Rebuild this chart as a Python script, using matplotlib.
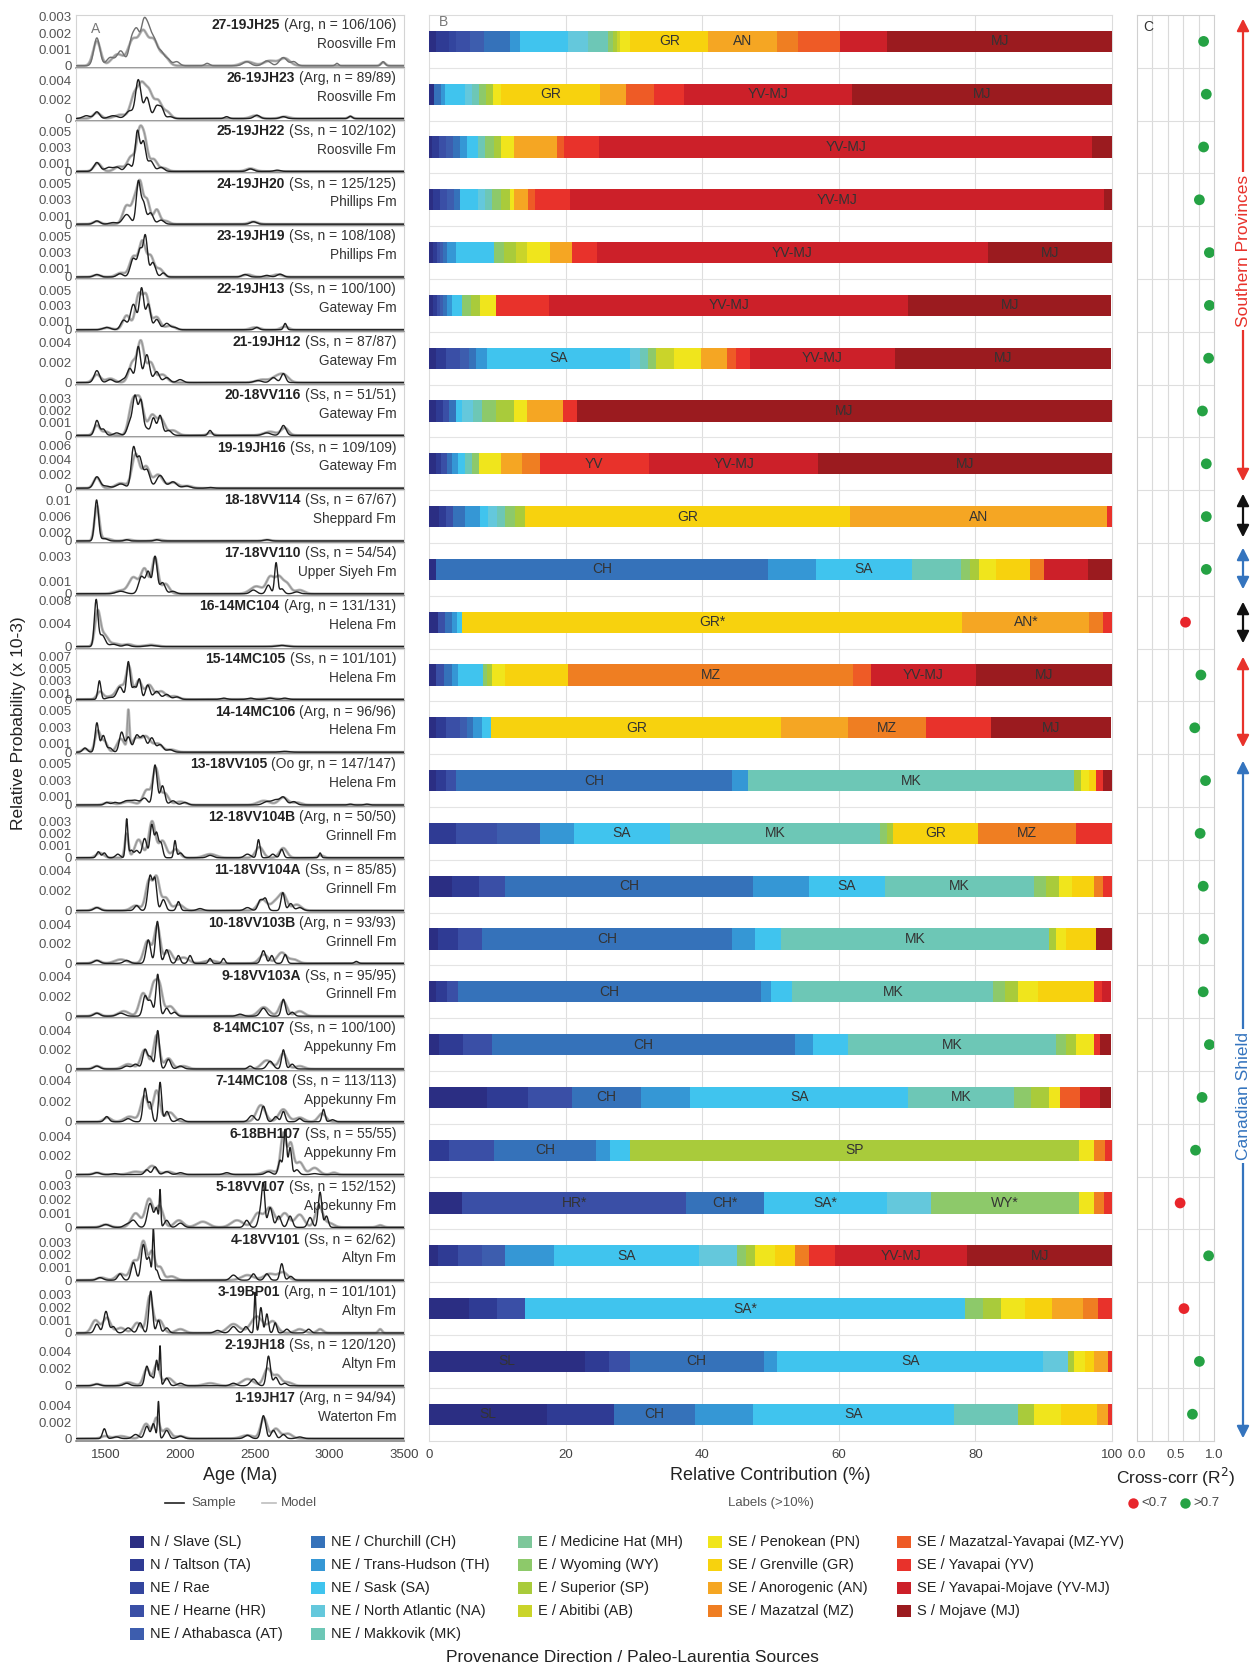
import numpy as np
import matplotlib
matplotlib.use("Agg")
import matplotlib.pyplot as plt
from matplotlib.offsetbox import TextArea, HPacker, AnchoredOffsetbox
from matplotlib.patches import FancyArrowPatch, Rectangle
from matplotlib.lines import Line2D

plt.rcParams['font.family'] = ['Liberation Sans', 'DejaVu Sans']

# ---------------- data ----------------
sample_ids = ['27-19JH25', '26-19JH23', '25-19JH22', '24-19JH20', '23-19JH19', '22-19JH13',
              '21-19JH12', '20-18VV116', '19-19JH16', '18-18VV114', '17-18VV110', '16-14MC104',
              '15-14MC105', '14-14MC106', '13-18VV105', '12-18VV104B', '11-18VV104A',
              '10-18VV103B', '9-18VV103A', '8-14MC107', '7-14MC108', '6-18BH107', '5-18VV107',
              '4-18VV101', '3-19BP01', '2-19JH18', '1-19JH17']
lithology = ['Arg', 'Arg', 'Ss', 'Ss', 'Ss', 'Ss', 'Ss', 'Ss', 'Ss', 'Ss', 'Ss', 'Arg', 'Ss', 'Arg',
             'Oo gr', 'Arg', 'Ss', 'Arg', 'Ss', 'Ss', 'Ss', 'Ss', 'Ss', 'Ss', 'Arg', 'Ss', 'Arg']
n_grains = ['106/106', '89/89', '102/102', '125/125', '108/108', '100/100', '87/87', '51/51',
            '109/109', '67/67', '54/54', '131/131', '101/101', '96/96', '147/147', '50/50',
            '85/85', '93/93', '95/95', '100/100', '113/113', '55/55', '152/152', '62/62',
            '101/101', '120/120', '94/94']
formations = ['Roosville Fm', 'Roosville Fm', 'Roosville Fm', 'Phillips Fm', 'Phillips Fm',
              'Gateway Fm', 'Gateway Fm', 'Gateway Fm', 'Gateway Fm', 'Sheppard Fm',
              'Upper Siyeh Fm', 'Helena Fm', 'Helena Fm', 'Helena Fm', 'Helena Fm',
              'Grinnell Fm', 'Grinnell Fm', 'Grinnell Fm', 'Grinnell Fm', 'Appekunny Fm',
              'Appekunny Fm', 'Appekunny Fm', 'Appekunny Fm', 'Altyn Fm', 'Altyn Fm',
              'Altyn Fm', 'Waterton Fm']

# age-spectrum peaks: (age Ma, height x1e-3, width Ma)
s27_sample = [(1440,1.7,20),(1530,0.5,25),(1600,0.9,25),(1675,1.6,20),(1710,1.8,18),(1752,2.2,18),(1785,2.0,20),(1825,1.4,20),(1870,0.8,20),(1915,0.4,20),(1975,0.25,20),(2180,0.15,15),(2445,0.25,25),(2580,0.3,25),(2690,0.5,25),(2760,0.25,20),(3050,0.15,10),(3360,0.25,12)]
s27_model = [(1440,1.5,25),(1580,0.7,40),(1680,1.5,30),(1750,2.0,30),(1820,1.5,30),(1890,0.6,30),(2450,0.25,40),(2600,0.3,40),(2700,0.45,35),(3360,0.2,15)]
s26_sample = [(1440,0.7,18),(1370,0.3,25),(1550,0.3,30),(1660,0.8,25),(1718,4.0,18),(1775,2.2,18),(1841,1.3,18),(1875,1.0,15),(1930,0.2,20),(2310,0.2,15),(2513,0.35,20),(2690,0.2,20),(3140,0.25,12)]
s26_model = [(1440,0.6,25),(1600,0.4,40),(1690,2.3,25),(1740,3.2,25),(1790,2.6,25),(1850,1.8,25),(1910,0.7,25),(2500,0.3,30),(2700,0.2,30),(3140,0.2,15)]
s25_sample = [(1440,1.1,20),(1520,0.5,25),(1575,0.5,20),(1650,0.9,20),(1712,5.0,15),(1752,3.6,15),(1800,1.3,20),(1870,0.5,20),(2470,0.3,20),(2650,0.15,20)]
s25_model = [(1445,1.0,25),(1590,0.6,30),(1670,1.8,25),(1725,4.5,20),(1760,3.6,20),(1820,1.5,25),(1890,0.4,25),(2470,0.35,30)]
s24_sample = [(1440,0.4,20),(1550,0.2,25),(1640,1.2,25),(1718,5.2,14),(1752,2.6,15),(1800,1.4,18),(1870,0.5,20),(2490,0.3,20)]
s24_model = [(1440,0.35,25),(1640,2.3,25),(1695,2.8,20),(1730,4.6,18),(1775,3.0,20),(1841,1.8,20),(1900,0.4,25),(2490,0.3,30)]
s23_sample = [(1440,0.3,20),(1595,0.4,20),(1685,2.3,20),(1730,3.2,15),(1765,5.0,14),(1815,1.8,18),(1886,0.5,15),(2434,0.3,20),(2580,0.2,20),(2669,0.35,20)]
s23_model = [(1440,0.25,25),(1600,0.5,30),(1685,2.5,25),(1745,4.3,22),(1800,2.5,22),(1860,1.0,25),(2450,0.3,30),(2650,0.3,30)]
s22_sample = [(1506,0.3,25),(1620,1.2,20),(1685,3.2,20),(1740,5.2,15),(1785,3.2,15),(1841,1.3,18),(1908,0.8,20),(1960,0.3,20),(2513,0.3,15),(2703,0.8,10)]
s22_model = [(1510,0.25,30),(1640,1.8,25),(1720,4.3,22),(1770,4.2,22),(1840,1.6,25),(1930,0.5,30),(2500,0.3,30),(2700,0.4,25)]
s21_sample = [(1440,1.2,18),(1530,0.3,20),(1618,0.3,20),(1662,1.4,18),(1718,3.6,15),(1775,2.8,18),(1841,1.1,18),(1908,0.5,20),(1998,0.3,20),(2520,0.2,25),(2624,0.5,20),(2691,0.9,15)]
s21_model = [(1440,0.8,25),(1530,0.4,30),(1680,2.0,25),(1735,4.0,22),(1800,2.0,25),(1880,0.8,30),(2550,0.3,40),(2650,0.6,35),(2700,0.6,30)]
s20_sample = [(1440,1.2,15),(1483,0.5,15),(1573,0.2,20),(1662,1.0,18),(1696,3.0,15),(1735,2.8,15),(1775,0.5,15),(1819,1.4,15),(1864,1.6,15),(1920,0.4,20),(2199,0.4,12),(2580,0.2,25),(2691,0.8,18)]
s20_model = [(1440,0.8,20),(1500,0.3,25),(1680,2.6,25),(1730,2.7,25),(1810,1.6,25),(1870,1.3,25),(1950,0.4,30),(2200,0.2,20),(2600,0.3,40),(2700,0.6,25)]
s19_sample = [(1440,1.6,20),(1500,0.3,25),(1600,0.6,30),(1685,5.5,15),(1725,4.3,18),(1775,2.6,20),(1864,1.8,25),(1950,0.9,25),(2040,0.3,25),(2200,0.1,20)]
s19_model = [(1440,1.5,22),(1600,0.7,35),(1700,4.8,25),(1770,3.0,25),(1850,1.9,30),(1950,0.8,35),(2050,0.3,30)]
s18_sample = [(1438,10.0,13),(1490,0.6,20),(1640,0.3,15),(1840,0.3,15),(2580,0.3,20)]
s18_model = [(1440,8.5,16),(1500,0.6,30),(1650,0.3,30),(1850,0.3,30),(2580,0.25,30)]
s17_sample = [(1600,0.2,30),(1740,1.4,20),(1785,1.7,15),(1830,3.0,14),(1880,0.9,18),(1950,0.2,20),(2490,0.3,20),(2590,0.7,15),(2642,2.5,10),(2680,0.4,15),(2780,0.15,20)]
s17_model = [(1600,0.25,40),(1685,1.3,30),(1760,2.0,25),(1830,2.9,20),(1900,0.8,25),(2510,0.6,40),(2602,1.3,25),(2660,1.3,25),(2714,0.8,25),(2800,0.3,30)]
s16_sample = [(1435,8.0,12),(1475,2.0,20),(1550,0.4,25),(1640,0.3,20),(1800,0.2,30),(2680,0.2,30)]
s16_model = [(1445,6.0,18),(1490,2.0,25),(1560,0.5,30),(1650,0.4,30),(1800,0.3,40),(2680,0.2,40)]
s15_sample = [(1457,3.0,10),(1530,0.3,25),(1595,2.0,20),(1651,6.0,12),(1690,2.0,15),(1725,3.2,12),(1781,2.3,15),(1841,1.3,20),(1908,0.8,20),(1976,0.4,20),(2290,0.2,20),(2470,0.2,20),(2600,0.2,20),(2700,0.2,20)]
s15_model = [(1460,1.2,20),(1520,0.4,30),(1600,2.2,30),(1655,5.0,18),(1720,3.0,22),(1790,2.3,25),(1870,1.3,30),(1960,0.5,30),(2600,0.2,40)]
s14_sample = [(1360,0.5,15),(1440,3.5,12),(1483,2.0,15),(1528,0.5,15),(1606,2.4,15),(1651,1.8,15),(1707,2.0,18),(1752,1.9,18),(1808,1.7,18),(1864,0.9,20),(1930,0.3,20),(2700,0.1,30)]
s14_model = [(1360,0.4,20),(1445,2.5,18),(1490,1.3,20),(1600,1.6,25),(1651,4.5,7),(1700,1.6,30),(1770,1.8,30),(1850,1.0,30),(1940,0.3,30)]
s13_sample = [(1506,0.3,15),(1560,0.3,20),(1640,0.5,30),(1700,0.5,25),(1760,0.8,20),(1830,4.8,14),(1880,2.3,15),(1950,0.5,20),(2030,0.3,20),(2580,0.4,25),(2640,0.6,25),(2691,0.9,20),(2760,0.4,20),(3140,0.1,15),(3250,0.1,15)]
s13_model = [(1520,0.3,30),(1650,0.4,40),(1775,1.8,25),(1835,4.3,20),(1895,1.4,25),(2000,0.4,35),(2560,0.5,40),(2690,0.9,30),(2780,0.3,30)]
s12_sample = [(1450,0.5,12),(1490,0.4,12),(1580,0.3,15),(1640,3.2,8),(1670,0.6,12),(1707,0.6,15),(1760,1.6,15),(1808,2.7,12),(1840,2.0,12),(1870,1.2,12),(1964,1.4,8),(2000,0.4,15),(2200,0.2,20),(2450,0.3,20),(2524,1.5,10),(2620,0.3,15),(2680,0.7,12),(2937,0.4,8)]
s12_model = [(1460,0.4,25),(1640,2.0,12),(1720,1.5,25),(1810,3.0,22),(1880,1.4,25),(1970,0.7,25),(2200,0.3,40),(2530,0.9,25),(2690,0.8,25),(2940,0.2,20)]
s11_sample = [(1440,0.3,20),(1707,0.5,15),(1797,3.5,15),(1830,3.0,12),(1886,1.1,15),(1987,0.9,12),(2132,0.2,20),(2450,0.3,20),(2535,1.0,15),(2570,1.2,15),(2687,1.8,12),(2740,0.7,15),(2800,0.3,20)]
s11_model = [(1440,0.3,25),(1700,0.5,30),(1790,3.0,22),(1840,3.2,20),(1900,1.3,25),(1990,0.6,30),(2550,1.1,30),(2640,0.9,30),(2690,1.5,25),(2780,0.6,30)]
s10_sample = [(1440,0.3,20),(1640,0.3,20),(1785,2.4,15),(1846,4.3,13),(1908,1.4,15),(1987,0.8,12),(2065,0.8,12),(2199,0.5,10),(2289,0.5,10),(2557,1.3,15),(2613,0.8,12),(2703,0.9,12),(3180,0.2,12)]
s10_model = [(1440,0.3,25),(1600,0.4,40),(1780,2.3,25),(1845,3.8,20),(1920,1.3,25),(2020,0.6,35),(2200,0.3,40),(2560,0.9,30),(2680,1.1,30),(2760,0.4,30)]
s9_sample = [(1440,0.3,20),(1600,0.3,25),(1763,2.0,15),(1800,1.5,15),(1848,4.2,12),(1908,0.8,15),(1960,0.4,15),(2400,0.2,20),(2557,0.8,20),(2691,1.7,13),(2750,0.4,15)]
s9_model = [(1440,0.3,25),(1620,0.5,35),(1750,2.3,25),(1820,3.0,22),(1860,2.8,20),(1930,1.0,30),(2560,0.9,35),(2690,1.5,25),(2800,0.5,30)]
s8_sample = [(1440,0.3,20),(1640,0.3,20),(1700,0.5,20),(1763,2.0,15),(1800,1.2,15),(1848,4.0,12),(1920,1.0,15),(2000,0.3,20),(2468,0.3,15),(2602,0.8,20),(2691,2.0,12),(2750,0.5,15)]
s8_model = [(1440,0.3,25),(1650,0.5,35),(1760,2.0,25),(1840,3.5,20),(1920,1.1,25),(2020,0.3,30),(2580,0.9,35),(2690,1.6,25),(2800,0.3,30)]
s7_sample = [(1506,0.5,15),(1650,0.3,20),(1763,3.2,13),(1797,1.8,12),(1864,3.8,10),(1910,1.0,15),(2000,0.3,20),(2480,0.6,20),(2557,1.5,15),(2640,0.5,15),(2691,1.0,12),(2800,0.3,15),(2960,1.2,10),(3020,0.2,15)]
s7_model = [(1510,0.4,25),(1660,0.5,35),(1760,2.5,25),(1840,3.0,22),(1930,0.9,30),(2540,1.6,30),(2690,1.2,30),(2800,0.4,30),(2950,0.8,25)]
s6_sample = [(1440,0.2,20),(1560,0.1,20),(1775,0.5,15),(1830,0.8,15),(1908,0.3,20),(2000,0.2,20),(2311,0.2,20),(2590,0.3,20),(2669,1.5,12),(2703,4.7,10),(2736,2.8,10),(2781,0.5,15),(2900,0.1,20)]
s6_model = [(1440,0.2,25),(1700,0.3,40),(1810,0.9,30),(1920,0.3,30),(2600,0.4,40),(2691,4.3,18),(2740,3.2,18),(2800,1.3,25),(2900,0.7,30),(3030,0.2,20)]
s5_sample = [(1500,0.2,25),(1640,0.2,20),(1685,0.5,20),(1797,1.7,18),(1840,1.3,12),(1864,2.5,5),(1908,0.5,15),(2000,0.3,20),(2445,0.5,15),(2540,1.2,15),(2557,2.5,10),(2602,1.4,15),(2660,0.8,15),(2736,0.8,15),(2870,0.7,15),(2937,2.5,12),(2980,0.8,12)]
s5_model = [(1500,0.2,30),(1700,1.0,30),(1790,2.0,25),(1860,1.5,25),(1990,0.5,30),(2150,0.4,40),(2380,0.5,40),(2520,1.0,30),(2600,1.4,30),(2700,1.0,30),(2800,0.9,30),(2930,1.5,25),(3000,0.3,30),(3340,0.15,20)]
s4_sample = [(1461,0.2,20),(1595,0.5,15),(1685,1.4,15),(1752,2.8,15),(1790,1.7,12),(1819,3.8,6),(1840,0.8,12),(2356,0.4,20),(2490,0.5,15),(2580,0.5,15),(2680,1.3,12),(2740,0.3,15)]
s4_model = [(1470,0.2,30),(1600,0.5,30),(1690,1.5,25),(1752,3.0,22),(1810,2.2,20),(1864,1.0,20),(1940,0.3,30),(2450,0.4,40),(2600,0.5,40),(2690,0.6,30)]
s3_sample = [(1440,0.7,15),(1501,1.7,15),(1550,0.5,15),(1650,0.4,20),(1730,0.8,15),(1801,3.3,12),(1853,1.0,12),(1908,0.4,15),(2250,0.2,20),(2356,0.5,20),(2440,0.5,15),(2501,3.2,6),(2540,2.0,10),(2580,1.5,10),(2636,0.8,10),(2714,0.3,15),(2860,0.3,15)]
s3_model = [(1430,1.0,25),(1506,1.2,25),(1600,0.4,30),(1710,0.8,25),(1795,2.9,20),(1860,1.0,25),(2000,0.3,30),(2356,0.7,40),(2513,1.3,40),(2620,0.9,30),(2800,0.3,30),(2937,0.3,20),(3340,0.3,12)]
s2_sample = [(1440,0.2,20),(1640,0.3,20),(1775,2.3,13),(1808,1.0,12),(1841,3.0,10),(1864,4.5,5),(1908,0.9,15),(2000,0.3,20),(2356,0.3,20),(2490,0.8,20),(2591,3.5,13),(2640,1.0,15),(2700,0.3,15)]
s2_model = [(1440,0.2,25),(1650,0.4,35),(1775,2.0,22),(1841,2.5,20),(1920,0.9,30),(2200,0.3,40),(2450,0.8,40),(2585,2.0,25),(2650,1.2,25),(2720,0.4,30)]
s1_sample = [(1490,1.2,12),(1570,0.2,20),(1700,0.5,20),(1775,1.5,15),(1819,1.8,12),(1853,4.5,6),(1908,1.0,15),(2000,0.3,20),(2450,0.4,20),(2557,2.8,15),(2624,1.0,15),(2691,0.5,15),(2800,0.2,20)]
s1_model = [(1495,0.3,25),(1600,0.3,40),(1770,1.8,25),(1840,2.5,20),(1910,1.2,25),(2000,0.3,30),(2450,0.4,40),(2560,2.5,22),(2640,1.2,25),(2720,0.6,30)]

sample_peaks = [s27_sample, s26_sample, s25_sample, s24_sample, s23_sample, s22_sample, s21_sample,
                s20_sample, s19_sample, s18_sample, s17_sample, s16_sample, s15_sample, s14_sample,
                s13_sample, s12_sample, s11_sample, s10_sample, s9_sample, s8_sample, s7_sample,
                s6_sample, s5_sample, s4_sample, s3_sample, s2_sample, s1_sample]
model_peaks = [s27_model, s26_model, s25_model, s24_model, s23_model, s22_model, s21_model,
               s20_model, s19_model, s18_model, s17_model, s16_model, s15_model, s14_model,
               s13_model, s12_model, s11_model, s10_model, s9_model, s8_model, s7_model,
               s6_model, s5_model, s4_model, s3_model, s2_model, s1_model]

# y tick values per row (x1e-3)
yticks_rows = [[0,1,2,3],[0,2,4],[0,1,3,5],[0,1,3,5],[0,1,3,5],[0,1,3,5],[0,2,4],[0,1,2,3],
               [0,2,4,6],[0,2,6,10],[0,1,3],[0,4,8],[0,1,3,5,7],[0,1,3,5],[0,1,3,5],[0,1,2,3],
               [0,2,4],[0,2,4],[0,2,4],[0,2,4],[0,2,4],[0,2,4],[0,1,2,3],[0,1,2,3],[0,1,2,3],
               [0,2,4],[0,2,4]]
ytop_rows = [3.1, 5.3, 6.3, 6.3, 6.3, 6.4, 5.1, 4.1, 7.2, 12.4, 4.1, 8.9, 8.2, 6.1, 6.1, 4.2,
             5.1, 5.2, 5.1, 5.3, 4.9, 5.3, 3.6, 4.0, 4.0, 6.0, 6.2]

# sources (stack order)
src_codes = ['SL', 'TA', 'Rae', 'HR', 'AT', 'CH', 'TH', 'SA', 'NA', 'MK', 'MH', 'WY', 'SP', 'AB',
             'PN', 'GR', 'AN', 'MZ', 'MZ-YV', 'YV', 'YV-MJ', 'MJ']
src_names = ['N / Slave (SL)', 'N / Taltson (TA)', 'NE / Rae', 'NE / Hearne (HR)',
             'NE / Athabasca (AT)', 'NE / Churchill (CH)', 'NE / Trans-Hudson (TH)',
             'NE / Sask (SA)', 'NE / North Atlantic (NA)', 'NE / Makkovik (MK)',
             'E / Medicine Hat (MH)', 'E / Wyoming (WY)', 'E / Superior (SP)', 'E / Abitibi (AB)',
             'SE / Penokean (PN)', 'SE / Grenville (GR)', 'SE / Anorogenic (AN)',
             'SE / Mazatzal (MZ)', 'SE / Mazatzal-Yavapai (MZ-YV)', 'SE / Yavapai (YV)',
             'SE / Yavapai-Mojave (YV-MJ)', 'S / Mojave (MJ)']
src_colors = ['#2B2E83', '#2F3B94', '#33459E', '#3A4FA6', '#3D5DAE', '#3572BA', '#3597D5',
              '#40C4EE', '#64C8DC', '#6DC7B6', '#7DC79A', '#8DC96A', '#A9CB3B', '#CAD42A',
              '#F0E51C', '#F7D20E', '#F5A623', '#EF7E22', '#EE5B26', '#E8322B', '#CC2029',
              '#9B1B1F']

# relative contributions (%), in source order
c27 = [1, 2, 1, 2, 2, 3.8, 1.5, 7, 3, 2.9, 0, 0.7, 0.6, 0.5, 1.5, 11.4, 10.1, 3, 6.2, 0, 6.9, 33]
c26 = [0.7, 0, 0, 0, 0, 1, 0.6, 3, 1, 1, 0, 1, 1, 0, 1.3, 14.4, 3.9, 0, 4, 4.5, 24.5, 38.2]
c25 = [0.5, 1, 0, 1, 1, 1.1, 1, 1.6, 0, 1, 0, 1.3, 1, 0, 2, 0, 6.2, 0, 1, 5.2, 72.2, 2.9]
c24 = [0.6, 1, 0, 1, 1, 1, 0, 2.6, 1, 1, 0, 1.3, 1.3, 0, 0.7, 0, 2, 0, 1, 5.2, 78.1, 1.3]
c23 = [0.6, 0.5, 0, 0.5, 0.5, 0.5, 1.3, 5.6, 0, 0, 0, 1.5, 1.7, 1.7, 3.3, 0, 3.3, 0, 0, 3.6, 57.2, 18.3]
c22 = [0.6, 0.5, 0, 0.5, 0.5, 0.5, 0.8, 1.5, 0, 0, 0, 1.3, 1.3, 0, 2.3, 0, 0, 0, 0, 7.8, 52.6, 29.7]
c21 = [1, 1.5, 0, 2, 1.4, 1, 1.6, 20.9, 1.5, 1.2, 0, 1.2, 0, 2.5, 4, 0, 3.9, 0, 1.3, 2, 21.2, 31.7]
c20 = [1, 1, 0, 1, 0, 0.9, 0, 1, 1.5, 1.4, 0, 2, 2.6, 0, 2, 0, 5.2, 0, 0, 2, 0, 78.4]
c19 = [1, 0.8, 0, 0.8, 0, 0.7, 1, 1, 0, 1, 0, 1, 0, 0, 3.3, 0, 3, 2.6, 0, 16, 24.8, 43.1]
c18 = [1.5, 1, 0, 1, 0, 1.7, 2.3, 1.2, 1.2, 1.2, 0, 1.5, 1.4, 0, 0, 47.7, 37.6, 0, 0, 0.7, 0, 0]
c17 = [1, 0, 0, 0, 0, 48.7, 6.9, 14.1, 0, 7.2, 0, 1.3, 1.3, 0, 2.5, 5, 0, 2, 0, 0, 6.5, 3.6]
c16 = [1.3, 0, 0, 1, 0, 1, 0.8, 0.8, 0, 0, 0, 0, 0, 0, 0, 73.2, 18.6, 2, 0, 1.3, 0, 0]
c15 = [1, 0, 0, 1.2, 0, 1.1, 1, 3.6, 0, 0, 0, 0.6, 0.7, 0, 2, 9.1, 0, 41.8, 2.6, 0, 15.4, 19.9]
c14 = [1, 1.5, 0, 2, 1, 1, 1.3, 1.3, 0, 0, 0, 0, 0, 0, 0, 42.5, 9.8, 11.4, 0, 9.5, 0, 17.6]
c13 = [1, 1.5, 0, 1.5, 0, 40.4, 2.3, 0, 0, 47.7, 0, 0, 1, 0, 1.2, 1.1, 0, 0, 0, 1, 0, 1.3]
c12 = [0, 4, 0, 6, 6.3, 0, 4.9, 14.1, 0, 30.7, 0, 1, 1, 0, 0, 12.4, 0, 14.4, 0, 5.2, 0, 0]
c11 = [3.3, 4, 0, 3.8, 0, 36.3, 8.2, 11.1, 0, 21.9, 0, 1.8, 1.8, 0, 2, 3.2, 0, 1.3, 0, 1.3, 0, 0]
c10 = [1.3, 3, 0, 3.5, 0, 36.6, 3.3, 3.9, 0, 39.2, 0, 0, 1, 0, 1.5, 4.4, 0, 0, 0, 0, 0, 2.3]
c9 = [1, 1.6, 0, 1.6, 0, 44.4, 1.5, 3.1, 0, 29.4, 0, 1.8, 1.8, 0, 3, 8.1, 0, 0, 0, 1.3, 1.3, 0]
c8 = [1.5, 3.5, 0, 4.2, 0, 44.4, 2.6, 5.2, 0, 30.4, 0, 1.5, 1.4, 0, 2.6, 0, 0, 0, 0, 1, 0, 1.6]
c7 = [8.5, 6, 0, 6.4, 0, 10.1, 7.2, 32, 0, 15.4, 0, 2.6, 2.6, 0, 1.6, 0, 0, 0, 2.9, 0, 2.9, 1.6]
c6 = [0, 3, 0, 6.5, 0, 15, 2, 2.9, 0, 0, 0, 0, 65.7, 0, 2.3, 0, 0, 1.6, 0, 1, 0, 0]
c5 = [4.9, 0, 0, 32.7, 0, 11.4, 0, 18, 6.5, 0, 0, 21.6, 0, 0, 2.3, 0, 0, 1.5, 0, 1.1, 0, 0]
c4 = [1.3, 3, 0, 3.5, 3.3, 0, 7.2, 21.2, 5.6, 0, 0, 1.3, 1.3, 0, 3, 2.9, 0, 2, 0, 3.9, 19.3, 21.2]
c3 = [5.9, 4, 0, 4.2, 0, 0, 0, 64.4, 0, 0, 0, 2.6, 2.6, 0, 3.5, 4, 4.6, 2.2, 0, 2, 0, 0]
c2 = [22.9, 3.5, 0, 3, 0, 19.6, 2, 38.9, 3.6, 0, 0, 0, 1, 0, 1.5, 1.4, 2, 0, 0, 0.7, 0, 0]
c1 = [17.3, 9.8, 0, 0, 0, 11.8, 8.5, 29.4, 0, 9.5, 0, 0, 2.3, 0, 4, 5.2, 1.6, 0, 0, 0.7, 0, 0]
contrib = [c27, c26, c25, c24, c23, c22, c21, c20, c19, c18, c17, c16, c15, c14, c13, c12, c11,
           c10, c9, c8, c7, c6, c5, c4, c3, c2, c1]
starred = ['16-14MC104', '5-18VV107', '3-19BP01']

# cross-correlation R^2
r2 = [0.865, 0.90, 0.865, 0.81, 0.94, 0.94, 0.93, 0.85, 0.90, 0.90, 0.90, 0.63, 0.83, 0.75,
      0.89, 0.82, 0.86, 0.865, 0.86, 0.94, 0.845, 0.76, 0.56, 0.93, 0.61, 0.81, 0.72]

# ---------------- layout ----------------
W, H = 1252, 1668
fig = plt.figure(figsize=(W / 100, H / 100), dpi=100)


def fx(px):
    return px / W


def fy(py):
    return 1 - py / H


nrow = len(sample_ids)
TOP, ROWH = 15.0, 52.8
BOTTOM = TOP + ROWH * nrow
ages = np.linspace(1300, 3500, 2201)


def spectrum(peaks):
    y = np.zeros_like(ages)
    for a, h, s in peaks:
        y += h * np.exp(-0.5 * ((ages - a) / s) ** 2)
    return y


LIGHT = '#d4d4d4'
TICKC = '#555555'

# ---------- panel A ----------
for k in range(nrow):
    top = TOP + ROWH * k
    ax = fig.add_axes([fx(76), fy(top + ROWH), (404 - 76) / W, ROWH / H])
    ytop = ytop_rows[k]
    ax.plot(ages, spectrum(model_peaks[k]), color='#b0b0b0', lw=2.0, alpha=0.9, zorder=2)
    ax.plot(ages, spectrum(model_peaks[k]), color='#8e8e8e', lw=0.7, alpha=0.9, zorder=2)
    ax.plot(ages, spectrum(sample_peaks[k]), color='#1e1e1e' if k > 0 else '#6f6f6f', lw=1.0, zorder=3)
    ax.set_xlim(1300, 3500)
    ax.set_ylim(-0.04 * ytop, ytop)
    ticks = yticks_rows[k]
    ax.set_yticks(ticks)
    ax.set_yticklabels(['0' if t == 0 else ('0.01' if t == 10 else '0.00%d' % t) for t in ticks])
    ax.tick_params(axis='y', length=0, pad=3, labelsize=9.5, labelcolor=TICKC)
    for sp in ['top', 'left', 'right']:
        ax.spines[sp].set_color(LIGHT)
        ax.spines[sp].set_linewidth(0.8)
    ax.spines['bottom'].set_color('#7a7a7a')
    ax.spines['bottom'].set_linewidth(1.1)
    ax.set_xticks([1500, 2000, 2500, 3000, 3500])
    if k == nrow - 1:
        ax.tick_params(axis='x', length=0, pad=6, labelsize=9.5, labelcolor='#444444')
    else:
        ax.tick_params(axis='x', length=0, labelbottom=False)
    ax.patch.set_alpha(0)
    # title
    ta1 = TextArea(sample_ids[k], textprops=dict(fontweight='bold', fontsize=10, color='#222222'))
    ta2 = TextArea('(%s, n = %s)' % (lithology[k], n_grains[k]),
                   textprops=dict(fontsize=10, color='#333333'))
    box = HPacker(children=[ta1, ta2], align='baseline', pad=0, sep=3)
    anc = AnchoredOffsetbox(loc='upper right', child=box, pad=0, borderpad=0, frameon=False,
                            bbox_to_anchor=(0.976, 0.94), bbox_transform=ax.transAxes)
    ax.add_artist(anc)
    ax.text(0.976, 0.45, formations[k], transform=ax.transAxes, ha='right', va='center',
            fontsize=9.8, color='#333333')
    if k == 0:
        ax.text(0.045, 0.74, 'A', transform=ax.transAxes, fontsize=10, color='#777777',
                ha='left', va='center')

fig.text(fx(240), fy(1475), 'Age (Ma)', ha='center', va='center', fontsize=13, color='#222222')
fig.text(fx(19), fy(723), 'Relative Probability (x 10-3)', rotation=90, ha='center',
         va='center', fontsize=12.5, color='#222222')

# ---------- panel B ----------
axb = fig.add_axes([fx(429), fy(BOTTOM), (1112 - 429) / W, (BOTTOM - TOP) / H])
ypos = np.arange(nrow)
for k in range(nrow):
    left = 0.0
    vals = contrib[k]
    for j, v in enumerate(vals):
        if v <= 0:
            continue
        axb.barh(ypos[k], v, left=left, height=0.4, color=src_colors[j], edgecolor='none', zorder=3)
        if v > 10:
            lab = src_codes[j] + ('*' if sample_ids[k] in starred else '')
            axb.text(left + v / 2, ypos[k], lab, ha='center', va='center', fontsize=10,
                     color='#333333', zorder=4)
        left += v
axb.set_xlim(0, 100)
axb.set_ylim(nrow - 0.5, -0.5)
axb.set_yticks([])
axb.set_xticks([0, 20, 40, 60, 80, 100])
axb.tick_params(axis='x', length=0, pad=6, labelsize=9.5, labelcolor='#444444')
for xg in [20, 40, 60, 80]:
    axb.axvline(xg, color='#dedede', lw=0.8, zorder=1)
for yb in np.arange(nrow - 1) + 0.5:
    axb.axhline(yb, color='#e4e4e4', lw=0.8, zorder=1)
for sp in axb.spines.values():
    sp.set_color('#dcdcdc')
    sp.set_linewidth(0.8)
axb.text(1.5, -0.37, 'B', fontsize=10, color='#777777', ha='left', va='center', zorder=2)
fig.text(fx(770), fy(1475), 'Relative Contribution (%)', ha='center', va='center',
         fontsize=13, color='#222222')

# ---------- panel C ----------
axc = fig.add_axes([fx(1137), fy(BOTTOM), (1214 - 1137) / W, (BOTTOM - TOP) / H])
cols = ['#E8252B' if v < 0.7 else '#25A244' for v in r2]
axc.scatter(r2, ypos, s=60, c=cols, edgecolors='none', zorder=3)
axc.set_xlim(0, 1.0)
axc.set_ylim(nrow - 0.5, -0.5)
axc.set_yticks([])
axc.set_xticks([0.0, 0.5, 1.0])
axc.set_xticklabels(['0.0', '0.5', '1.0'])
axc.tick_params(axis='x', length=0, pad=6, labelsize=9.5, labelcolor='#444444')
for xg in [0.2, 0.4, 0.6, 0.8]:
    axc.axvline(xg, color='#dadada', lw=0.8, zorder=1)
for yb in np.arange(nrow - 1) + 0.5:
    axc.axhline(yb, color='#dedede', lw=0.8, zorder=1)
for sp in axc.spines.values():
    sp.set_color('#d0d0d0')
    sp.set_linewidth(0.8)
axc.text(0.08, -0.28, 'C', fontsize=10, color='#333333', ha='left', va='center')
fig.text(fx(1176), fy(1477), 'Cross-corr (R$^2$)', ha='center', va='center', fontsize=12.5,
         color='#222222')

# ---------- right-side arrows ----------
arrows = [(16, 484, '#E8322B', 'Southern Provinces', 251),
          (491, 540, '#111111', None, None),
          (545, 592, '#3474BE', None, None),
          (599, 646, '#111111', None, None),
          (654, 750, '#E8322B', None, None),
          (758, 1441, '#3474BE', 'Canadian Shield', 1096)]
AX = 1243
for y0, y1, col, txt, ty in arrows:
    arr = FancyArrowPatch((fx(AX), fy(y0)), (fx(AX), fy(y1)), transform=fig.transFigure,
                          arrowstyle='<|-|>,head_length=0.55,head_width=0.28',
                          mutation_scale=13, color=col, lw=1.6)
    fig.add_artist(arr)
    if txt:
        fig.text(fx(AX), fy(ty), txt, rotation=90, ha='center', va='center', fontsize=12.5,
                 color=col, bbox=dict(facecolor='white', edgecolor='none', pad=2))

# ---------- legends ----------
LY = 1503
fig.add_artist(Line2D([fx(165), fx(184)], [fy(LY), fy(LY)], color='#222222', lw=1.2))
fig.text(fx(191), fy(LY), 'Sample', ha='left', va='center', fontsize=9.5, color='#555555')
fig.add_artist(Line2D([fx(262), fx(276)], [fy(LY), fy(LY)], color='#bdbdbd', lw=1.2))
fig.text(fx(281), fy(LY), 'Model', ha='left', va='center', fontsize=9.5, color='#555555')
fig.text(fx(771), fy(LY), 'Labels (>10%)', ha='center', va='center', fontsize=9.5,
         color='#555555')
fig.add_artist(Line2D([fx(1133)], [fy(LY)], marker='o', markersize=7.5, color='#E8252B',
                      markeredgecolor='none', linestyle='none'))
fig.text(fx(1141), fy(LY), '<0.7', ha='left', va='center', fontsize=9.5, color='#444444')
fig.add_artist(Line2D([fx(1185)], [fy(LY)], marker='o', markersize=7.5, color='#25A244',
                      markeredgecolor='none', linestyle='none'))
fig.text(fx(1193), fy(LY), '>0.7', ha='left', va='center', fontsize=9.5, color='#444444')

col_x = [130, 311, 518, 708, 897]
row_y = [1542, 1565, 1588, 1611, 1634]
groups = [[0, 1, 2, 3, 4], [5, 6, 7, 8, 9], [10, 11, 12, 13], [14, 15, 16, 17], [18, 19, 20, 21]]
for ci, grp in enumerate(groups):
    for ri, j in enumerate(grp):
        x0, yc = col_x[ci], row_y[ri]
        fig.add_artist(Rectangle((fx(x0), fy(yc + 6)), 14 / W, 12 / H, transform=fig.transFigure,
                                 facecolor=src_colors[j], edgecolor='none'))
        fig.text(fx(x0 + 20), fy(yc), src_names[j], ha='left', va='center', fontsize=10.5,
                 color='#222222')
fig.text(fx(632), fy(1657), 'Provenance Direction / Paleo-Laurentia Sources', ha='center',
         va='center', fontsize=12.5, color='#222222')

fig.savefig('out.png', dpi=100)
